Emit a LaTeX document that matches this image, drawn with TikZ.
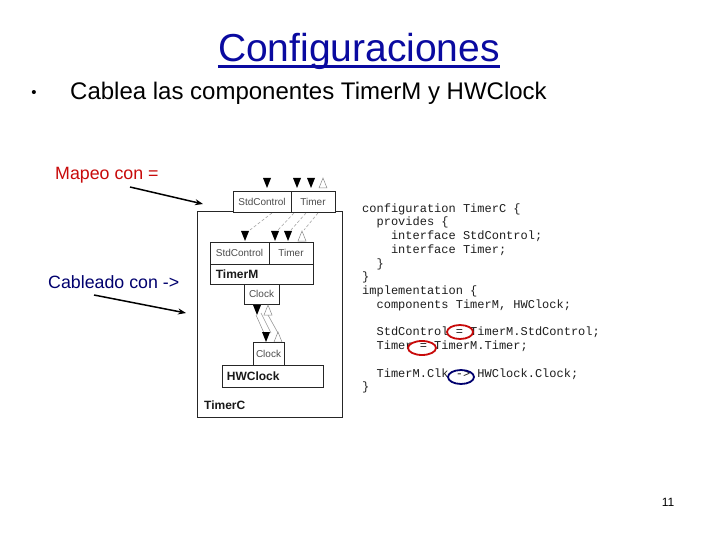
\documentclass[tikz,border=0pt]{standalone}
\usepackage{fontspec}
\setmainfont{Liberation Sans}
\setsansfont{Liberation Sans}
\setmonofont{Liberation Mono}
\usetikzlibrary{shapes.geometric,arrows.meta}
\definecolor{titleblue}{RGB}{10,10,160}
\definecolor{mapred}{RGB}{200,10,10}
\definecolor{cabblue}{RGB}{0,0,110}
\definecolor{codegray}{RGB}{30,30,30}
\tikzset{
  box/.style={draw=black!85, line width=0.7pt, inner sep=0pt},
  small/.style={font=\fontsize{10}{11}\selectfont, text=black!70, inner sep=0pt},
  boldlbl/.style={font=\fontsize{12}{13}\selectfont\bfseries, text=black!90, inner sep=0pt, anchor=west},
  code/.style={font=\fontsize{12}{13}\ttfamily, text=codegray, inner sep=0pt, anchor=base west},
  ftri/.pic={\fill[black] (-4,0) -- (4,0) -- (0,10) -- cycle;},
  otri/.pic={\draw[black!45, line width=0.5pt] (-4,10) -- (4,10) -- (0,0) -- cycle;},
  dashline/.style={black!35, line width=0.6pt, dash pattern=on 3pt off 2pt},
  wire/.style={black!40, line width=0.6pt},
  pointer/.style={line width=1.5pt, -{Stealth[length=8pt,width=6pt]}},
  circ/.style={ellipse, draw, line width=1.8pt, inner sep=0pt}
}
\begin{document}
\begin{tikzpicture}[x=1pt,y=-1pt]
\useasboundingbox[fill=white] (0,0) rectangle (720,540);

% title
\node[anchor=base, font=\fontsize{39}{42}\selectfont, text=titleblue, inner sep=0pt] (title) at (359,62) {Configuraciones};
\draw[titleblue, line width=2.2pt] (title.south west |- 0,66.5) -- (title.south east |- 0,66.5);

% bullet
\node[anchor=base, font=\fontsize{15}{16}\selectfont, inner sep=0pt] (bul) at (34,98) {•};
\node[anchor=base west, font=\fontsize{24}{26}\selectfont, inner sep=0pt] (line1) at (70,100) {Cablea las componentes TimerM y HWClock};

% side labels
\node[anchor=base west, font=\fontsize{17.8}{19}\selectfont, text=mapred, inner sep=0pt] (mapeo) at (55,180) {Mapeo con =};
\node[anchor=base west, font=\fontsize{17.8}{19}\selectfont, text=cabblue, inner sep=0pt] (cab) at (48,288) {Cableado con ->};
\coordinate (m1) at (130,187);
\coordinate (m2) at (203,204);
\coordinate (c1) at (94,295);
\coordinate (c2) at (186,313);
\draw[pointer] (m1) -- (m2);
\draw[pointer] (c1) -- (c2);

% outer configuration box
\node[box, anchor=north west, minimum width=145, minimum height=206] (timerC) at (197,211) {};
\node[boldlbl] (timerClbl) at (204,405) {TimerC};

% top interface box
\node[box, minimum width=58, minimum height=21, fill=white] (topsc) at (262,201.5) {};
\node[box, minimum width=44, minimum height=21, fill=white] (topt) at (313,201.5) {};
\node[small] at (topsc) {StdControl};
\node[small] at (topt) {Timer};
\pic at (267,178) {ftri};
\pic at (297,178) {ftri};
\pic at (311,178) {ftri};
\pic at (323,178) {otri};

% dashed mappings
\coordinate (d1a) at (272,213); \coordinate (d1b) at (250,230);
\coordinate (d2a) at (294,213); \coordinate (d2b) at (278,230);
\coordinate (d3a) at (306,213); \coordinate (d3b) at (291,230);
\coordinate (d4a) at (318,213); \coordinate (d4b) at (304,230);
\draw[dashline] (d1a) -- (d1b);
\draw[dashline] (d2a) -- (d2b);
\draw[dashline] (d3a) -- (d3b);
\draw[dashline] (d4a) -- (d4b);

% TimerM
\pic at (245,231) {ftri};
\pic at (275,231) {ftri};
\pic at (288,231) {ftri};
\pic at (302,231) {otri};
\node[box, minimum width=59, minimum height=22] (tmsc) at (239.5,253) {};
\node[box, minimum width=44, minimum height=22] (tmt) at (291,253) {};
\node[small] at (tmsc) {StdControl};
\node[small] at (tmt) {Timer};
\node[box, minimum width=103, minimum height=20] (tmm) at (261.5,274) {};
\node[boldlbl] at ([xshift=6pt]tmm.west) {TimerM};

% Clock (used)
\node[box, minimum width=35, minimum height=20] (clk1) at (261.5,294) {};
\node[small] at (clk1) {Clock};
\pic at (257,305) {ftri};
\pic at (268,305) {otri};

% wiring
\coordinate (w1a) at (256,315); \coordinate (w1b) at (264,333);
\coordinate (w2a) at (261,313); \coordinate (w2b) at (271,333);
\coordinate (w3a) at (268,315); \coordinate (w3b) at (278,333);
\draw[wire] (w1a) -- (w1b);
\draw[wire] (w2a) -- (w2b);
\draw[wire] (w3a) -- (w3b);

% HWClock
\pic at (266,332) {ftri};
\pic at (278,332) {otri};
\node[box, minimum width=31, minimum height=23] (clk2) at (268.5,353.5) {};
\node[small] at (clk2) {Clock};
\node[box, minimum width=101, minimum height=22] (hw) at (272.5,376) {};
\node[boldlbl] at ([xshift=5pt]hw.west) {HWClock};

% code
\node[code] (l1) at (362,212) {configuration TimerC \{};
\node[code] (l2) at (376.4,225.75) {provides \{};
\node[code] (l3) at (390.8,239.5) {interface StdControl;};
\node[code] (l4) at (390.8,253.25) {interface Timer;};
\node[code] (l5) at (376.4,267) {\}};
\node[code] (l6) at (362,280.75) {\}};
\node[code] (l7) at (362,294.5) {implementation \{};
\node[code] (l8) at (376.4,308.25) {components TimerM, HWClock;};
\node[code] (l9) at (376.4,335.75) {StdControl = TimerM.StdControl;};
\node[code] (l10) at (376.4,349.5) {Timer = TimerM.Timer;};
\node[code] (l11) at (376.4,377) {TimerM.Clk -> HWClock.Clock;};
\node[code] (l12) at (362,390.75) {\}};

% highlight ellipses
\node[circ, draw=mapred, minimum width=26, minimum height=14] (e1) at (460,332) {};
\node[circ, draw=mapred, minimum width=28, minimum height=14] (e2) at (422,348) {};
\node[circ, draw=cabblue, minimum width=26, minimum height=14] (e3) at (461,377) {};

% page number
\node[anchor=base, font=\fontsize{12}{13}\selectfont, inner sep=0pt] (pg) at (668,506) {11};
\end{tikzpicture}
\end{document}
